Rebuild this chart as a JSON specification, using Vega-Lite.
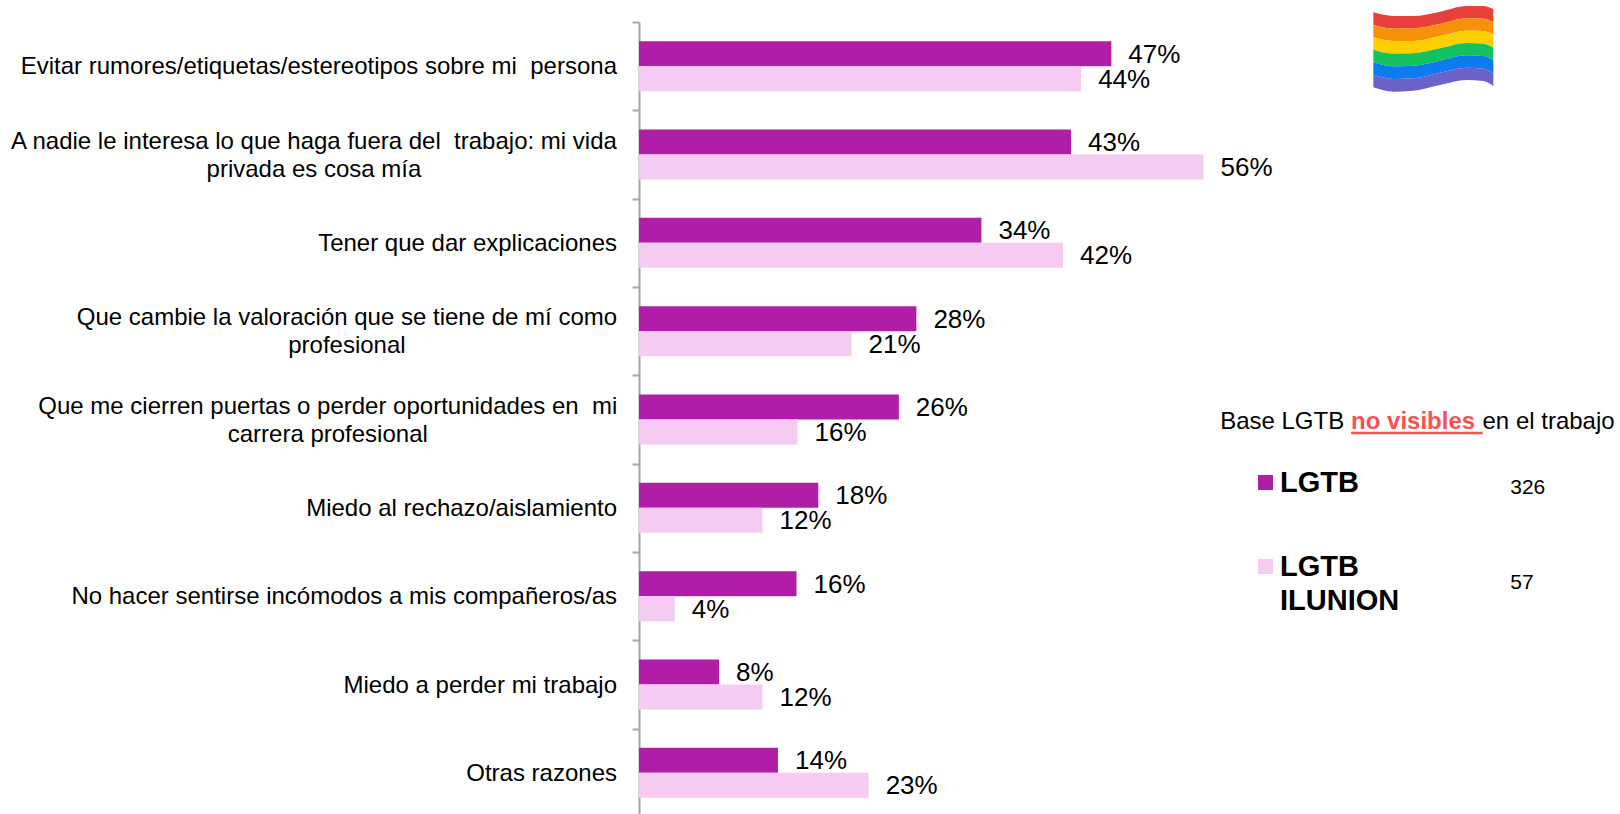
{"$schema":"https://vega.github.io/schema/vega-lite/v6.json","width":981,"height":792,"autosize":"none","padding":{"left":639,"top":22,"right":0,"bottom":0},"background":"white","config":{"view":{"stroke":null},"font":"Liberation Sans"},
"datasets":{"bars":[
{"cat":"c1","label":"Evitar rumores/etiquetas/estereotipos sobre mi  persona","serie":"LGTB","v":0.469},{"cat":"c1","label":"Evitar rumores/etiquetas/estereotipos sobre mi  persona","serie":"LGTB ILUNION","v":0.439},
{"cat":"c2","label":"A nadie le interesa lo que haga fuera del  trabajo: mi vida\nprivada es cosa mía","serie":"LGTB","v":0.429},{"cat":"c2","label":"A nadie le interesa lo que haga fuera del  trabajo: mi vida\nprivada es cosa mía","serie":"LGTB ILUNION","v":0.5605},
{"cat":"c3","label":"Tener que dar explicaciones","serie":"LGTB","v":0.34},{"cat":"c3","label":"Tener que dar explicaciones","serie":"LGTB ILUNION","v":0.421},
{"cat":"c4","label":"Que cambie la valoración que se tiene de mí como\nprofesional","serie":"LGTB","v":0.2754},{"cat":"c4","label":"Que cambie la valoración que se tiene de mí como\nprofesional","serie":"LGTB ILUNION","v":0.211},
{"cat":"c5","label":"Que me cierren puertas o perder oportunidades en  mi\ncarrera profesional","serie":"LGTB","v":0.258},{"cat":"c5","label":"Que me cierren puertas o perder oportunidades en  mi\ncarrera profesional","serie":"LGTB ILUNION","v":0.1574},
{"cat":"c6","label":"Miedo al rechazo/aislamiento","serie":"LGTB","v":0.178},{"cat":"c6","label":"Miedo al rechazo/aislamiento","serie":"LGTB ILUNION","v":0.1226},
{"cat":"c7","label":"No hacer sentirse incómodos a mis compañeros/as","serie":"LGTB","v":0.1564},{"cat":"c7","label":"No hacer sentirse incómodos a mis compañeros/as","serie":"LGTB ILUNION","v":0.0355},
{"cat":"c8","label":"Miedo a perder mi trabajo","serie":"LGTB","v":0.0795},{"cat":"c8","label":"Miedo a perder mi trabajo","serie":"LGTB ILUNION","v":0.1226},
{"cat":"c9","label":"Otras razones","serie":"LGTB","v":0.138},{"cat":"c9","label":"Otras razones","serie":"LGTB ILUNION","v":0.228}],
"base":[{"serie":"LGTB","n":326},{"serie":"LGTB ILUNION","n":57}],
"flag":[
{"s":"a","x":100,"y":37,"y2":74.5},{"s":"a","x":160,"y":48,"y2":86},{"s":"a","x":220,"y":48,"y2":85},{"s":"a","x":300,"y":35,"y2":72},{"s":"a","x":380,"y":18,"y2":55},{"s":"a","x":430,"y":18,"y2":56},{"s":"a","x":460,"y":27,"y2":66},
{"s":"b","x":100,"y":74.5,"y2":112},{"s":"b","x":160,"y":86,"y2":123},{"s":"b","x":220,"y":85,"y2":123},{"s":"b","x":300,"y":72,"y2":108},{"s":"b","x":380,"y":55,"y2":92},{"s":"b","x":430,"y":56,"y2":93},{"s":"b","x":460,"y":66,"y2":104},
{"s":"c","x":100,"y":112,"y2":149.5},{"s":"c","x":160,"y":123,"y2":161},{"s":"c","x":220,"y":123,"y2":160},{"s":"c","x":300,"y":108,"y2":145},{"s":"c","x":380,"y":92,"y2":129},{"s":"c","x":430,"y":93,"y2":131},{"s":"c","x":460,"y":104,"y2":143},
{"s":"d","x":100,"y":149.5,"y2":187},{"s":"d","x":160,"y":161,"y2":199},{"s":"d","x":220,"y":160,"y2":197},{"s":"d","x":300,"y":145,"y2":182},{"s":"d","x":380,"y":129,"y2":166},{"s":"d","x":430,"y":131,"y2":168},{"s":"d","x":460,"y":143,"y2":181},
{"s":"e","x":100,"y":187,"y2":224.5},{"s":"e","x":160,"y":199,"y2":237},{"s":"e","x":220,"y":197,"y2":235},{"s":"e","x":300,"y":182,"y2":218},{"s":"e","x":380,"y":166,"y2":203},{"s":"e","x":430,"y":168,"y2":206},{"s":"e","x":460,"y":181,"y2":220},
{"s":"f","x":100,"y":224.5,"y2":262},{"s":"f","x":160,"y":237,"y2":275},{"s":"f","x":220,"y":235,"y2":272},{"s":"f","x":300,"y":218,"y2":255},{"s":"f","x":380,"y":203,"y2":240},{"s":"f","x":430,"y":206,"y2":243},{"s":"f","x":460,"y":220,"y2":258}],
"note":[{"a":"Base LGTB ","b":"no visibles ","c":"en el trabajo"}]},
"layer":[
{"data":{"name":"bars"},
"encoding":{"y":{"field":"cat","type":"nominal","sort":null,"scale":{"range":[0,795],"paddingInner":0,"paddingOuter":0},"axis":{"labels":false,"title":null,"domainColor":"#a6a6a6","domainWidth":2,"tickColor":"#a6a6a6","tickWidth":2,"tickSize":7,"tickBand":"extent"}}},
"layer":[
{"mark":{"type":"bar"},"encoding":{"x":{"field":"v","type":"quantitative","scale":{"domain":[0,0.974],"nice":false},"axis":null},"yOffset":{"field":"serie","sort":null,"scale":{"paddingInner":0,"paddingOuter":0.766}},"color":{"field":"serie","type":"nominal","sort":null,"scale":{"domain":["LGTB","LGTB ILUNION"],"range":["#B01EA8","#F6CBF2"]},"legend":{"orient":"none","legendX":612,"legendY":446,"title":null,"symbolType":"square","symbolSize":225,"symbolOpacity":1,"labelFont":"Liberation Sans","labelFontSize":29,"labelFontWeight":"bold","labelColor":"#000000","labelLimit":300,"labelOffset":0,"rowPadding":54,"labelExpr":"split(datum.label,' ')","encoding":{"labels":{"lineHeight":{"value":34}}}}}}},
{"mark":{"type":"text","align":"left","baseline":"middle","dx":17,"dy":1,"fontSize":26,"color":"#000000"},"encoding":{"x":{"field":"v","type":"quantitative"},"yOffset":{"field":"serie","sort":null,"scale":{"paddingInner":0,"paddingOuter":0.766}},"text":{"field":"v","type":"quantitative","format":".0%"}}},
{"transform":[{"filter":"datum.serie=='LGTB' && indexof(datum.label,'\\n')<0"},{"calculate":"replace(datum.label,'  ','\u00a0 ')","as":"shown"}],"mark":{"type":"text","align":"right","baseline":"middle","dx":-22,"dy":1,"fontSize":24,"color":"#000000"},"encoding":{"x":{"datum":0},"text":{"field":"shown"}}},
{"transform":[{"filter":"datum.serie=='LGTB' && datum.cat=='c2'"},{"calculate":"replace(datum.label,'  ','\u00a0 ')","as":"shown"}],"mark":{"type":"text","align":"center","baseline":"middle","lineBreak":"\n","lineHeight":28,"dy":-13,"fontSize":24,"color":"#000000"},"encoding":{"x":{"datum":-0.3227},"text":{"field":"shown"}}},
{"transform":[{"filter":"datum.serie=='LGTB' && datum.cat=='c4'"}],"mark":{"type":"text","align":"center","baseline":"middle","lineBreak":"\n","lineHeight":28,"dy":-13,"fontSize":24,"color":"#000000"},"encoding":{"x":{"datum":-0.29},"text":{"field":"label"}}},
{"transform":[{"filter":"datum.serie=='LGTB' && datum.cat=='c5'"},{"calculate":"replace(datum.label,'  ','\u00a0 ')","as":"shown"}],"mark":{"type":"text","align":"center","baseline":"middle","lineBreak":"\n","lineHeight":28,"dy":-13,"fontSize":24,"color":"#000000"},"encoding":{"x":{"datum":-0.309},"text":{"field":"shown"}}}
]},
{"data":{"name":"flag"},"mark":{"type":"area","interpolate":"monotone"},"encoding":{"x":{"field":"x","type":"quantitative","scale":{"domain":[0,540],"range":[701,881],"nice":false,"zero":false},"axis":null},"y":{"field":"y","type":"quantitative","scale":{"domain":[0,390],"range":[-22,108],"nice":false,"zero":false},"axis":null},"y2":{"field":"y2"},"color":{"field":"s","type":"nominal","scale":{"domain":["a","b","c","d","e","f"],"range":["#E8403A","#F79208","#FFCE00","#12C25F","#0B7BEF","#6A62C9"]},"legend":null}}},
{"data":{"name":"base"},"mark":{"type":"text","align":"left","baseline":"middle","fontSize":21,"color":"#000000"},"encoding":{"x":{"datum":0.865,"scale":{"domain":[0,0.974],"nice":false},"axis":null},"y":{"field":"serie","type":"nominal","sort":null,"scale":{"type":"point","domain":["LGTB","LGTB ILUNION"],"range":[466,561],"padding":0},"axis":null},"text":{"field":"n","type":"quantitative"}}},
{"data":{"name":"note"},"encoding":{"y":{"datum":0,"scale":{"domain":[0,792],"range":[0,792],"nice":false},"axis":null}},
"layer":[
{"mark":{"type":"text","align":"left","baseline":"middle","fontSize":24,"color":"#000000","dy":400},"encoding":{"x":{"datum":0.577,"scale":{"domain":[0,0.974],"nice":false},"axis":null},"text":{"field":"a"}}},
{"mark":{"type":"text","align":"left","baseline":"middle","fontSize":24,"fontWeight":"bold","color":"#FF5050","dy":400},"encoding":{"x":{"datum":0.707},"text":{"field":"b"}}},
{"mark":{"type":"text","align":"left","baseline":"middle","fontSize":24,"color":"#000000","dy":400},"encoding":{"x":{"datum":0.8375},"text":{"field":"c"}}},
{"mark":{"type":"rule","color":"#FF5050","strokeWidth":2.5,"yOffset":411},"encoding":{"x":{"datum":0.707},"x2":{"datum":0.8375}}}
]}
],
"resolve":{"scale":{"x":"independent","y":"independent","color":"independent"}}}
